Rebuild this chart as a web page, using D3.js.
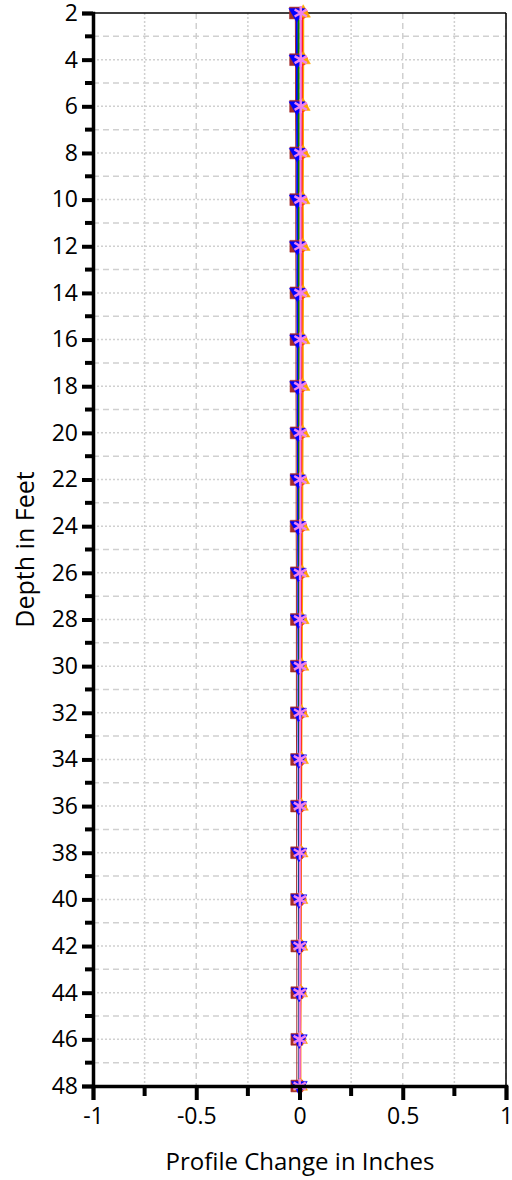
<!DOCTYPE html>
<html><head><meta charset="utf-8">
<script src="https://cdn.jsdelivr.net/npm/d3@7/dist/d3.min.js"></script>
<style>body{margin:0;background:#fff}svg{display:block}</style>
</head><body><svg id="c" width="512" height="1180"></svg>
<script>
const depths = [2,4,6,8,10,12,14,16,18,20,22,24,26,28,30,32,34,36,38,40,42,44,46,48];
const squareVals = [-0.020,-0.019,-0.019,-0.018,-0.018,-0.018,-0.017,-0.017,-0.017,-0.016,-0.016,-0.016,-0.015,-0.015,-0.015,-0.015,-0.014,-0.014,-0.014,-0.014,-0.013,-0.013,-0.013,-0.013];
const blueVals = [-0.013,-0.012,-0.012,-0.011,-0.011,-0.010,-0.010,-0.009,-0.009,-0.008,-0.007,-0.007,-0.006,-0.006,-0.005,-0.005,-0.004,-0.004,-0.003,-0.003,-0.002,-0.002,-0.001,-0.001];
const greenVals = [-0.004,-0.004,-0.004,-0.003,-0.003,-0.003,-0.003,-0.002,-0.002,-0.002,-0.002,-0.001,-0.001,-0.001,-0.001,-0.001,0.000,0.000,0.000,0.000,0.000,0.000,0.000,0.000];
const redVals = [0.012,0.012,0.011,0.011,0.010,0.010,0.010,0.009,0.009,0.009,0.008,0.008,0.008,0.007,0.007,0.007,0.006,0.006,0.005,0.005,0.004,0.004,0.003,0.003];
const orangeVals = [0.018,0.018,0.017,0.017,0.016,0.017,0.017,0.016,0.016,0.015,0.014,0.013,0.013,0.012,0.011,0.010,0.009,0.008,0.007,0.006,0.006,0.005,0.004,0.004];
const violetVals = [0.006,0.006,0.006,0.005,0.005,0.005,0.005,0.005,0.004,0.004,0.004,0.004,0.003,0.003,0.003,0.003,0.002,0.002,0.002,0.002,0.001,0.001,0.001,0.001];
const xTicks = [-1,-0.5,0,0.5,1];
const yTicks = [2,4,6,8,10,12,14,16,18,20,22,24,26,28,30,32,34,36,38,40,42,44,46,48];

const series = [
  {vals: squareVals, color: "#a52a2a", line: "#a52a2a", sym: d3.symbolSquare, size: 140},
  {vals: greenVals, color: "#008000", line: "#008000", sym: d3.symbolCircle, size: 50},
  {vals: redVals, color: "#ff2020", line: "#ff2020", sym: d3.symbolCircle, size: 100},
  {vals: orangeVals, color: "#ffa500", line: "#ffa500", sym: d3.symbolTriangle, size: 90},
  {vals: blueVals, color: "#0000ff", line: "#0000ff", sym: d3.symbolTriangle, size: 110, rot: 180},
  {vals: violetVals, color: "#ee82ee", line: "#ee82ee", sym: d3.symbolAsterisk, size: 140}
];

const svg = d3.select("#c");
const L = 93, R = 506, T = 13, B = 1086;
const x = d3.scaleLinear().domain([-1,1]).range([L,R]);
const y = d3.scaleLinear().domain([2,48]).range([T,B]);
const font = "'Open Sans','Noto Sans',sans-serif";

// grid
const g = svg.append("g");
d3.range(-1,1.001,0.25).forEach(v=>{
  const major = Math.abs(v*2 - Math.round(v*2))<1e-6;
  g.append("line").attr("x1",x(v)).attr("x2",x(v)).attr("y1",T).attr("y2",B)
   .attr("stroke","#d0d0d0").attr("stroke-width",1.5)
   .attr("stroke-dasharray", major? "6,4" : "2,2");
});
d3.range(3,48,1).forEach(v=>{
  const major = v%2===0;
  g.append("line").attr("x1",L).attr("x2",R).attr("y1",y(v)).attr("y2",y(v))
   .attr("stroke","#d0d0d0").attr("stroke-width",1.5)
   .attr("stroke-dasharray", major? "2,2" : "6,4");
});

// frame top/right
svg.append("line").attr("x1",L).attr("x2",R).attr("y1",T).attr("y2",T).attr("stroke","#000").attr("stroke-width",1.5);
svg.append("line").attr("x1",R).attr("x2",R).attr("y1",T).attr("y2",B).attr("stroke","#000").attr("stroke-width",1.5);

// lines
const lineGen = d3.line().x(d=>x(d[0])).y(d=>y(d[1]));
svg.append("path").datum(squareVals.map((v,j)=>[v,depths[j]]))
    .attr("d",lineGen).attr("fill","none").attr("stroke","#a52a2a").attr("stroke-width",1);
[4,1,3,2,5].forEach(i=>{
  const s = series[i];
  svg.append("path").datum(s.vals.map((v,j)=>[v,depths[j]]))
    .attr("d",lineGen).attr("fill","none").attr("stroke",s.line).attr("stroke-width",2);
});

// markers
series.forEach(s=>{
  const sym = d3.symbol().type(s.sym).size(s.size);
  svg.append("g").selectAll("path").data(s.vals.map((v,j)=>[v,depths[j]])).join("path")
    .attr("d",sym)
    .attr("transform",d=>`translate(${x(d[0])},${y(d[1])})${s.rot?` rotate(${s.rot})`:""}`)
    .attr("fill",s.sym===d3.symbolAsterisk?"none":s.color)
    .attr("stroke",s.color).attr("stroke-width",s.sym===d3.symbolAsterisk?2.5:0.5);
});

// axes
const yAxis = svg.append("g").attr("transform",`translate(${L},0)`);
yAxis.call(d3.axisLeft(y).tickValues(yTicks).tickSize(11).tickPadding(4).tickFormat(d3.format("d")));
yAxis.selectAll(".tick line").attr("stroke-width",4);
d3.range(3,48,2).forEach(v=>{
  yAxis.append("line").attr("x1",-8).attr("x2",0).attr("y1",y(v)).attr("y2",y(v)).attr("stroke","#000").attr("stroke-width",4);
});
yAxis.select(".domain").attr("stroke-width",3.5);

const xAxis = svg.append("g").attr("transform",`translate(0,${B})`);
xAxis.call(d3.axisBottom(x).tickValues(xTicks).tickSize(14).tickPadding(8).tickFormat(d=>d===0?"0":String(d)));
xAxis.selectAll(".tick line").attr("stroke-width",4);
d3.range(-0.75,1,0.5).forEach(v=>{
  xAxis.append("line").attr("x1",x(v)).attr("x2",x(v)).attr("y1",0).attr("y2",10).attr("stroke","#000").attr("stroke-width",4);
});
xAxis.select(".domain").attr("stroke-width",3.5);

svg.selectAll(".tick text").attr("font-family",font).attr("font-size",23).attr("fill","#000");

svg.append("text").attr("x",300).attr("y",1170).attr("text-anchor","middle")
  .attr("font-family",font).attr("font-size",24).text("Profile Change in Inches");
svg.append("text").attr("transform",`translate(34,${(T+B)/2}) rotate(-90)`).attr("text-anchor","middle")
  .attr("font-family",font).attr("font-size",25).text("Depth in Feet");
</script></body></html>
